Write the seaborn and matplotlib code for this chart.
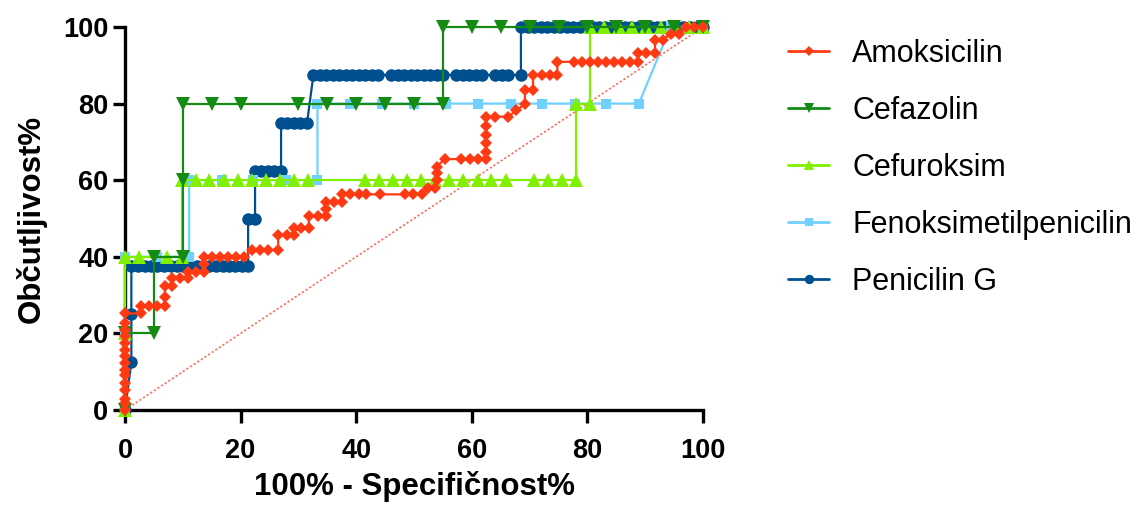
import matplotlib
matplotlib.use("Agg")
import matplotlib.pyplot as plt
import seaborn as sns
import pandas as pd

# ---------------- data ----------------
series_names = ["Amoksicilin", "Cefazolin", "Cefuroksim", "Fenoksimetilpenicilin", "Penicilin G"]

amox_x = [0, 0, 0, 0, 0, 0, 0, 0, 0, 0, 0, 0, 0, 0, 0,
          2.7, 2.7, 4.1, 5.5, 6.9, 6.9, 6.9, 8.2, 8.2, 9.6, 10.9, 10.9, 12.3, 13.7, 13.7, 13.7,
          15.1, 16.5, 17.9, 19.2, 20.6, 22.0, 23.4, 24.8, 26.5, 26.5, 28.0, 29.2, 29.2, 30.5, 31.8,
          31.8, 33.4, 34.7, 34.7, 34.7, 36.1, 37.5, 37.5, 38.9, 40.4, 41.7, 44.2, 48.4, 49.9, 51.3,
          52.5, 53.6, 53.9, 53.9, 53.9, 55.3, 58.2, 59.7, 61.1, 62.5, 62.5, 62.5, 62.5, 62.5, 62.5,
          64.0, 66.3, 67.7, 69.2, 69.2, 70.6, 70.6, 72.1, 73.5, 74.8, 74.8, 77.6, 79.0, 80.4, 81.8,
          83.2, 84.6, 86.0, 87.3, 88.8, 88.8, 90.2, 91.7, 91.7, 93.1, 94.4, 95.8, 97.0, 98.5, 100]
amox_y = [0, 1.7, 3.0, 5.2, 7.0, 9.1, 10.5, 12.2, 14.0, 15.7, 17.5, 19.3, 21.0, 22.8, 25.2,
          25.2, 27.2, 27.2, 27.2, 27.2, 29.5, 32.4, 32.4, 34.4, 34.4, 34.4, 36.1, 36.1, 36.1, 38.0, 40.0,
          40.0, 40.0, 40.0, 40.0, 40.0, 41.8, 41.8, 41.8, 41.8, 45.6, 45.6, 45.6, 47.4, 47.4, 47.4,
          50.6, 50.6, 50.6, 52.5, 54.4, 54.4, 54.4, 56.3, 56.3, 56.3, 56.3, 56.3, 56.3, 56.3, 56.3,
          57.9, 57.9, 60.0, 61.8, 63.5, 65.5, 65.5, 65.5, 65.5, 65.5, 67.4, 69.6, 71.8, 74.2, 76.6,
          76.6, 76.6, 78.2, 79.9, 83.6, 83.6, 87.5, 87.5, 87.5, 87.5, 90.9, 90.9, 90.9, 90.9, 90.9,
          90.9, 90.9, 90.9, 90.9, 90.9, 93.1, 93.1, 93.1, 96.6, 96.6, 98.3, 98.3, 100, 100, 100]

cefa_x = [0, 0, 5, 5, 10, 10, 10, 15, 20, 30, 35, 40, 45, 50, 55, 55, 60, 65, 70, 75, 80, 85, 90, 95, 100]
cefa_y = [0, 20, 20, 40, 40, 60, 80, 80, 80, 80, 80, 80, 80, 80, 80, 100, 100, 100, 100, 100, 100, 100, 100, 100, 100]

cefu_x = [0, 0, 0, 2.4, 7.3, 9.8, 9.8, 12.2, 14.6, 17.1, 19.5, 22.0, 24.4, 26.8, 29.3, 31.7,
          41.5, 43.9, 46.3, 48.8, 51.2, 53.7, 56.1, 58.5, 61.0, 63.4, 65.9, 70.7, 73.2, 75.6, 78.0,
          78.0, 80.5, 80.5, 82.9, 85.4, 87.8, 90.2, 92.7, 95.1, 97.6, 100]
cefu_y = [0, 20, 40, 40, 40, 40, 60, 60, 60, 60, 60, 60, 60, 60, 60, 60,
          60, 60, 60, 60, 60, 60, 60, 60, 60, 60, 60, 60, 60, 60, 60,
          80, 80, 100, 100, 100, 100, 100, 100, 100, 100, 100]

fen_x = [0, 0, 0, 5.6, 11.1, 11.1, 16.7, 22.2, 27.8, 33.3, 33.3, 38.9, 44.4, 50.0, 55.6, 61.1,
         66.7, 72.2, 77.8, 83.3, 88.9, 94.4, 100]
fen_y = [0, 20, 40, 40, 40, 60, 60, 60, 60, 60, 80, 80, 80, 80, 80, 80,
         80, 80, 80, 80, 80, 100, 100]

pen_x = [0, 1.1, 1.1, 1.1, 2.2, 3.4, 4.5, 5.6, 6.7, 7.9, 9.0, 10.1, 11.2, 12.4, 13.5, 14.6, 15.7,
         16.9, 18.0, 19.1, 20.2, 21.3, 21.3, 22.5, 22.5, 23.6, 24.7, 25.8, 27.0, 27.0, 28.1, 29.2,
         30.3, 31.5, 32.6, 33.7, 34.8, 36.0, 37.1, 38.2, 39.3, 40.4, 41.6, 42.7, 43.8, 46.1, 47.2,
         48.3, 49.4, 50.6, 51.7, 52.8, 53.9, 55.1, 57.3, 58.4, 59.6, 60.7, 61.8, 64.0, 65.2, 66.3,
         68.5, 68.5, 69.7, 70.8, 71.9, 73.0, 74.2, 75.3, 76.4, 77.5, 78.7, 79.8, 80.9, 82.0, 83.1,
         84.3, 85.4, 86.5, 87.6, 88.8, 89.9, 91.0, 92.1, 93.3, 94.4, 95.5, 96.6, 97.8, 98.9, 100]
pen_y = [0, 12.5, 25, 37.5, 37.5, 37.5, 37.5, 37.5, 37.5, 37.5, 37.5, 37.5, 37.5, 37.5, 37.5, 37.5, 37.5,
         37.5, 37.5, 37.5, 37.5, 37.5, 50, 50, 62.5, 62.5, 62.5, 62.5, 62.5, 75, 75, 75,
         75, 75, 87.5, 87.5, 87.5, 87.5, 87.5, 87.5, 87.5, 87.5, 87.5, 87.5, 87.5, 87.5, 87.5,
         87.5, 87.5, 87.5, 87.5, 87.5, 87.5, 87.5, 87.5, 87.5, 87.5, 87.5, 87.5, 87.5, 87.5, 87.5,
         87.5, 100, 100, 100, 100, 100, 100, 100, 100, 100, 100, 100, 100, 100, 100,
         100, 100, 100, 100, 100, 100, 100, 100, 100, 100, 100, 100, 100, 100, 100]

diag_x = [0, 100]
diag_y = [0, 100]

x_ticks = [0, 20, 40, 60, 80, 100]
y_ticks = [0, 20, 40, 60, 80, 100]

# ---------------- style ----------------
sns.set_style("ticks")
plt.rcParams["font.family"] = ["Liberation Sans", "DejaVu Sans"]
plt.rcParams["text.color"] = "black"
plt.rcParams["axes.labelcolor"] = "black"
plt.rcParams["xtick.color"] = "black"
plt.rcParams["ytick.color"] = "black"

colors = {
    "Amoksicilin": "#ff3a12",
    "Cefazolin": "#148c14",
    "Cefuroksim": "#80f000",
    "Fenoksimetilpenicilin": "#70d0ff",
    "Penicilin G": "#00508f",
}
markers = {
    "Amoksicilin": ("D", 6.5),
    "Cefazolin": ("v", 9.5),
    "Cefuroksim": ("^", 9.5),
    "Fenoksimetilpenicilin": ("s", 7.8),
    "Penicilin G": ("o", 9),
}
data = {
    "Amoksicilin": (amox_x, amox_y),
    "Cefazolin": (cefa_x, cefa_y),
    "Cefuroksim": (cefu_x, cefu_y),
    "Fenoksimetilpenicilin": (fen_x, fen_y),
    "Penicilin G": (pen_x, pen_y),
}

fig = plt.figure(figsize=(11.4, 5.08), dpi=100)
ax = fig.add_axes([125 / 1140, 1 - 410 / 508, 578 / 1140, 383 / 508])

sns.lineplot(x=diag_x, y=diag_y, ax=ax, color="#ff6a5a", linestyle=(0, (1.3, 1.3)),
             linewidth=1.2, estimator=None, sort=False, zorder=1)

handles = []
n = len(series_names)
for i, name in enumerate(series_names):
    xs, ys = data[name]
    df = pd.DataFrame({"x": xs, "y": ys})
    m, ms = markers[name]
    sns.lineplot(data=df, x="x", y="y", ax=ax, estimator=None, sort=False,
                 color=colors[name], linewidth=1.6, marker=m, markersize=ms,
                 markeredgewidth=0, zorder=10 + (n - i), clip_on=False)
    line = ax.get_lines()[-1]
    line.set_clip_on(False)
    handles.append(plt.Line2D([0], [0], color=colors[name], lw=2.0, marker=m,
                              markersize=ms * 0.75, markeredgewidth=0))

ax.set_xlim(0, 100)
ax.set_ylim(0, 100)
ax.set_xticks(x_ticks)
ax.set_yticks(y_ticks)
ax.set_xticklabels([str(t) for t in x_ticks])
ax.set_yticklabels([str(t) for t in y_ticks])
sns.despine(ax=ax)
for side in ["left", "bottom"]:
    ax.spines[side].set_linewidth(2.4)
    ax.spines[side].set_color("black")
ax.tick_params(axis="both", width=2.4, length=9, color="black", labelsize=19.5,
               labelcolor="black")
ax.tick_params(axis="x", pad=11)
ax.tick_params(axis="y", pad=3)
for lab in ax.get_xticklabels() + ax.get_yticklabels():
    lab.set_fontweight("bold")

ax.set_xlabel("100% - Specifičnost%", fontsize=22.5, fontweight="bold", labelpad=5,
              color="black")
ax.set_ylabel("Občutljivost%", fontsize=22.5, fontweight="bold", labelpad=12,
              color="black")

leg = fig.legend(handles, series_names, loc="upper left",
                 bbox_to_anchor=(788 / 1140, 1 - 39 / 508),
                 frameon=False, fontsize=22, handlelength=1.35, handletextpad=0.75,
                 labelspacing=0.88, borderaxespad=0, borderpad=0)
for t in leg.get_texts():
    t.set_color("black")

fig.savefig("out.png", dpi=100)
